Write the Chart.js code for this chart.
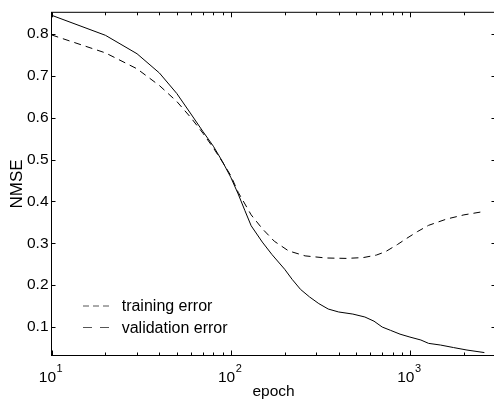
<!DOCTYPE html>
<html>
<head>
<meta charset="utf-8">
<script src="https://cdn.jsdelivr.net/npm/chart.js@4.4.1/dist/chart.umd.min.js"></script>
<style>
html, body { margin: 0; padding: 0; background: #fff; overflow: hidden; }
#nmse-chart { display: block; }
</style>
</head>
<body>
<canvas id="nmse-chart" width="500" height="399"></canvas>
<script>
//training error (solid line)
const TRAIN_EPOCHS = [10, 20, 30, 40, 50, 60, 70, 80, 90, 100, 110, 120, 130, 150, 170, 200, 220, 245, 275, 310, 350, 400, 480, 560, 630, 700, 780, 880, 1000, 1150, 1270, 1480, 1750, 2080, 2600];
const TRAIN_NMSE = [0.845, 0.797, 0.753, 0.707, 0.658, 0.609, 0.567, 0.532, 0.495, 0.458, 0.418, 0.378, 0.342, 0.303, 0.273, 0.238, 0.214, 0.190, 0.172, 0.156, 0.143, 0.136, 0.131, 0.124, 0.114, 0.100, 0.092, 0.083, 0.076, 0.069, 0.061, 0.057, 0.051, 0.045, 0.039];

//validation error (dashed line)
const VAL_EPOCHS = [10, 20, 30, 40, 50, 60, 70, 80, 90, 100, 110, 120, 130, 150, 175, 210, 260, 340, 440, 550, 650, 730, 850, 960, 1100, 1270, 1600, 2000, 2580];
const VAL_NMSE = [0.798, 0.755, 0.717, 0.677, 0.639, 0.600, 0.563, 0.528, 0.494, 0.462, 0.422, 0.394, 0.368, 0.335, 0.305, 0.282, 0.270, 0.265, 0.264, 0.266, 0.272, 0.280, 0.297, 0.312, 0.328, 0.343, 0.358, 0.368, 0.376];

//axes
const SERIES_LABELS = ['training error', 'validation error'];
const Y_TICKS = [0.1, 0.2, 0.3, 0.4, 0.5, 0.6, 0.7, 0.8];
const X_DECADES = [10, 100, 1000];
const X_MIN = 10;
const X_MAX = 3000;
const Y_MIN = 0.032;
const Y_MAX = 0.852;

const FONT = "'Liberation Sans', Arial, sans-serif";

function toPoints(xs, ys) {
    return xs.map((x, i) => ({ x: x, y: ys[i] }));
}

// frame, inward ticks, 10^k labels and the legend inside the plot
const matlabFrame = {
    id: 'matlabFrame',
    afterDraw(chart) {
        const { ctx, chartArea: a, scales: { x, y } } = chart;
        ctx.save();
        ctx.strokeStyle = '#000';
        ctx.lineWidth = 1;
        ctx.setLineDash([]);
        ctx.strokeRect(a.left, a.top, a.right - a.left, a.bottom - a.top);

        ctx.beginPath();
        for (let d = X_MIN; d < X_MAX; d *= 10) {
            for (let m = 1; m < 10; m++) {
                const v = d * m;
                if (v > X_MAX) break;
                const px = Math.round(x.getPixelForValue(v)) + 0.5;
                const len = m === 1 ? 5 : 3;
                ctx.moveTo(px, a.bottom);
                ctx.lineTo(px, a.bottom - len);
                ctx.moveTo(px, a.top);
                ctx.lineTo(px, a.top + len);
            }
        }
        Y_TICKS.forEach(v => {
            const py = Math.round(y.getPixelForValue(v)) + 0.5;
            ctx.moveTo(a.left, py);
            ctx.lineTo(a.left + 4, py);
            ctx.moveTo(a.right, py);
            ctx.lineTo(a.right - 4, py);
        });
        ctx.stroke();

        // decade labels as 10 with a raised exponent
        ctx.fillStyle = '#000';
        X_DECADES.forEach(v => {
            const px = x.getPixelForValue(v);
            const exp = String(Math.round(Math.log10(v)));
            ctx.font = '15.5px ' + FONT;
            ctx.textAlign = 'right';
            ctx.textBaseline = 'alphabetic';
            ctx.fillText('10', px + 4.5, 381.7);
            ctx.font = '11px ' + FONT;
            ctx.textAlign = 'left';
            ctx.fillText(exp, px + 5, 371.5);
        });

        // legend
        const dashes = [[6, 4], [9, 8]];
        const rows = [306, 327.5];
        chart.data.datasets.forEach((ds, i) => {
            ctx.strokeStyle = '#555';
            ctx.setLineDash(dashes[i]);
            ctx.beginPath();
            ctx.moveTo(83, rows[i]);
            ctx.lineTo(110, rows[i]);
            ctx.stroke();
            ctx.setLineDash([]);
            ctx.font = '16px ' + FONT;
            ctx.textAlign = 'left';
            ctx.textBaseline = 'alphabetic';
            ctx.fillStyle = '#000';
            ctx.fillText(ds.label, 121.7, rows[i] + 5);
        });
        ctx.restore();
    }
};

const nmseChart = new Chart(document.getElementById('nmse-chart'), {
    type: 'line',
    data: {
        datasets: [
            {
                label: SERIES_LABELS[0],
                data: toPoints(TRAIN_EPOCHS, TRAIN_NMSE),
                borderColor: '#000',
                borderWidth: 1,
                pointRadius: 0,
                tension: 0,
                fill: false,
            },
            {
                label: SERIES_LABELS[1],
                data: toPoints(VAL_EPOCHS, VAL_NMSE),
                borderColor: '#000',
                borderWidth: 1,
                borderDash: [7, 5],
                pointRadius: 0,
                tension: 0,
                fill: false,
            },
        ]
    },
    options: {
        responsive: false,
        animation: false,
        devicePixelRatio: 1,
        layout: { padding: { top: 7.5, right: 4.5, left: 0, bottom: 0 } },
        plugins: {
            legend: { display: false },
            tooltip: { enabled: false },
        },
        scales: {
            x: {
                type: 'logarithmic',
                min: X_MIN,
                max: X_MAX,
                grid: { display: false, drawTicks: false },
                border: { display: false },
                ticks: { display: false },
                title: {
                    display: true,
                    text: 'epoch',
                    color: '#000',
                    font: { family: FONT, size: 15.5, lineHeight: 1 },
                    padding: { top: 0, bottom: 0 },
                },
                afterFit(scale) { scale.height = 43.5; },
            },
            y: {
                min: Y_MIN,
                max: Y_MAX,
                grid: { display: false, drawTicks: false },
                border: { display: false },
                ticks: {
                    stepSize: 0.1,
                    includeBounds: false,
                    padding: 3,
                    color: '#000',
                    font: { family: FONT, size: 15.5 },
                    callback: v => v.toFixed(1),
                },
                title: {
                    display: true,
                    text: 'NMSE',
                    color: '#000',
                    font: { family: FONT, size: 17 },
                    padding: { top: 7, bottom: 0 },
                },
                afterFit(scale) { scale.width = 51.5; },
            },
        },
    },
    plugins: [matlabFrame],
});
</script>
</body>
</html>
